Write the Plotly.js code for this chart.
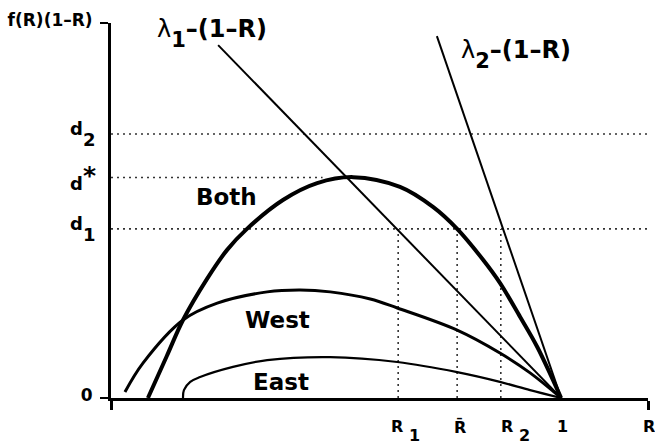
<!DOCTYPE html>
<html>
<head>
<meta charset="utf-8">
<script src="https://cdn.plot.ly/plotly-3.0.1.min.js"></script>
<style>
  html, body { margin: 0; padding: 0; background: #fff; }
  #chart { width: 655px; height: 444px; }
</style>
</head>
<body>
<div id="chart"></div>
<script>
// ── Curve data (R on x, f(R)(1-R) on y) ─────────────────────────────────────
const BOTH_R = [0.082, 0.124, 0.160, 0.213, 0.258, 0.302, 0.382, 0.458, 0.538, 0.642, 0.716, 0.769, 0.827, 0.864, 0.909, 0.947, 1.000];
const BOTH_F = [0.000, 0.112, 0.208, 0.317, 0.395, 0.451, 0.528, 0.573, 0.589, 0.563, 0.509, 0.451, 0.368, 0.307, 0.216, 0.136, 0.000];

const WEST_R = [0.031, 0.071, 0.160, 0.236, 0.347, 0.420, 0.487, 0.576, 0.636, 0.769, 0.864, 0.931, 1.000];
const WEST_F = [0.016, 0.093, 0.208, 0.253, 0.283, 0.288, 0.283, 0.264, 0.240, 0.181, 0.120, 0.067, 0.000];

const EAST_R = [0.160, 0.162, 0.176, 0.198, 0.271, 0.347, 0.487, 0.636, 0.769, 0.864, 0.931, 1.000];
const EAST_F = [0.000, 0.021, 0.043, 0.056, 0.083, 0.101, 0.109, 0.096, 0.069, 0.043, 0.021, 0.000];

// λ - (1 - R) lines: top end and the common root at R = 1
const LAMBDA1_R = [0.238, 1.0];
const LAMBDA1_F = [0.941, 0.0];
const LAMBDA2_R = [0.724, 1.0];
const LAMBDA2_F = [0.965, 0.0];

// reference levels d1, d*, d2 and where their dotted guides stop
const D_NAMES  = ['d1', 'dstar', 'd2'];
const D_LEVELS = [0.451, 0.588, 0.704];
const D_ENDS   = [1.193, 0.470, 1.193];

// R1, R-bar, R2 marks (dropped from d1 to the axis)
const R_NAMES = ['R1', 'Rbar', 'R2'];
const R_MARKS = [0.638, 0.769, 0.866];

const X_MAX = 1.193;
const Y_MAX = 1.0;

// ── Styling ───────────────────────────────────────────────────────────────────
const FONT = 'DejaVu Sans, Liberation Sans, Arial, sans-serif';
const DOT  = { color: '#333', width: 1.6, dash: '2px,4px' };

function solid(w) { return { color: '#000', width: w, shape: 'spline', smoothing: 1.0 }; }

const traces = [];

// dotted guides first so the curves sit on top
D_LEVELS.forEach((d, k) => {
  traces.push({ x: [0, D_ENDS[k]], y: [d, d], name: D_NAMES[k],
    type: 'scatter', mode: 'lines', line: DOT, hoverinfo: 'skip' });
});
R_MARKS.forEach((r, k) => {
  traces.push({ x: [r, r], y: [0, D_LEVELS[0]], name: R_NAMES[k],
    type: 'scatter', mode: 'lines', line: DOT, hoverinfo: 'skip' });
});

traces.push(
  { x: LAMBDA1_R, y: LAMBDA1_F, name: 'λ1-(1-R)', type: 'scatter', mode: 'lines',
    line: { color: '#000', width: 2 } },
  { x: LAMBDA2_R, y: LAMBDA2_F, name: 'λ2-(1-R)', type: 'scatter', mode: 'lines',
    line: { color: '#000', width: 2 } },
  { x: EAST_R, y: EAST_F, name: 'East', type: 'scatter', mode: 'lines', line: solid(2.2) },
  { x: WEST_R, y: WEST_F, name: 'West', type: 'scatter', mode: 'lines', line: solid(3) },
  { x: BOTH_R, y: BOTH_F, name: 'Both', type: 'scatter', mode: 'lines', line: solid(4) },
);

// ── Labels ────────────────────────────────────────────────────────────────────
// big, low subscripts as in the drawing (Plotly's <sub> is too small and too high)
const SUB = (s, shift, size) => '<span style="baseline-shift:-' + shift + 'px' +
  (size ? ';font-size:' + size + 'px' : '') + '">' + s + '</span>';

function txt(text, size, extra) {
  return Object.assign({
    text: text, showarrow: false,
    font: { family: FONT, size: size, color: '#000', weight: 'bold' },
  }, extra);
}

const LAMBDA = '<span style="font-weight:normal">λ</span>';

const annotations = [
  // curve names
  txt('Both', 23, { xref: 'x', yref: 'y', x: 0.256, y: 0.536 }),
  txt('West', 23, { xref: 'x', yref: 'y', x: 0.370, y: 0.208 }),
  txt('East', 23, { xref: 'x', yref: 'y', x: 0.378, y: 0.043 }),

  // λ line labels
  txt(LAMBDA + SUB('1', 10, 21) + '–(1–R)', 24,
      { xref: 'x', yref: 'y', x: LAMBDA1_R[0], y: LAMBDA1_F[0],
        xanchor: 'left', yanchor: 'bottom', xshift: -63, yshift: -9 }),
  txt(LAMBDA + SUB('2', 10, 21) + '–(1–R)', 24,
      { xref: 'x', yref: 'y', x: LAMBDA2_R[0], y: LAMBDA2_F[0],
        xanchor: 'left', yanchor: 'top', xshift: 22, yshift: 2 }),

  // d levels on the left of the axis
  txt('d' + SUB('2', 11), 18, { xref: 'paper', yref: 'y', x: 0, y: D_LEVELS[2],
      xanchor: 'left', yanchor: 'middle', xshift: -43 }),
  txt('d<span style="baseline-shift:6px;font-size:25px">*</span>', 18,
      { xref: 'paper', yref: 'y', x: 0, y: D_LEVELS[1],
        xanchor: 'left', yanchor: 'middle', xshift: -43 }),
  txt('d' + SUB('1', 11), 18, { xref: 'paper', yref: 'y', x: 0, y: D_LEVELS[0],
      xanchor: 'left', yanchor: 'middle', xshift: -43 }),

  // marks under the R axis
  txt('R ' + SUB('1', 9), 16, { xref: 'x', yref: 'paper', x: R_MARKS[0], y: 0,
      xanchor: 'left', yanchor: 'top', xshift: -9, yshift: -17 }),
  txt('R\u0304', 16, { xref: 'x', yref: 'paper', x: R_MARKS[1], y: 0,
      xanchor: 'center', yanchor: 'top', xshift: 3, yshift: -17 }),
  txt('R ' + SUB('2', 9), 16, { xref: 'x', yref: 'paper', x: R_MARKS[2], y: 0,
      xanchor: 'left', yanchor: 'top', xshift: -2, yshift: -17 }),
  txt('1', 16, { xref: 'x', yref: 'paper', x: 1, y: 0,
      xanchor: 'center', yanchor: 'top', xshift: 1, yshift: -17 }),
  txt('R', 16, { xref: 'paper', yref: 'paper', x: 1, y: 0,
      xanchor: 'left', yanchor: 'top', xshift: -7, yshift: -17 }),
];

const layout = {
  width: 655, height: 444,
  margin: { l: 111, r: 7, t: 23, b: 46 },
  paper_bgcolor: '#fff', plot_bgcolor: '#fff',
  showlegend: false,
  font: { family: FONT, color: '#000' },
  xaxis: {
    range: [0, X_MAX], showgrid: false, zeroline: false,
    showline: true, linecolor: '#000', linewidth: 3,
    ticks: 'outside', tickvals: [0, X_MAX], ticklen: 9, tickwidth: 3, tickcolor: '#000',
    showticklabels: false, fixedrange: true,
  },
  yaxis: {
    range: [0, Y_MAX], showgrid: false, zeroline: false,
    showline: true, linecolor: '#000', linewidth: 3,
    ticks: 'outside', tickvals: [0, Y_MAX], ticklen: 8, tickwidth: 2.5, tickcolor: '#000',
    ticktext: ['0', 'f(R)(1–R)'],
    tickfont: { family: FONT, size: 17, color: '#000', weight: 'bold' },
    ticklabelstandoff: 4, ticklabelshift: -3, fixedrange: true,
  },
  annotations: annotations,
};

Plotly.newPlot('chart', traces, layout, { displayModeBar: false, staticPlot: true });
</script>
</body>
</html>
